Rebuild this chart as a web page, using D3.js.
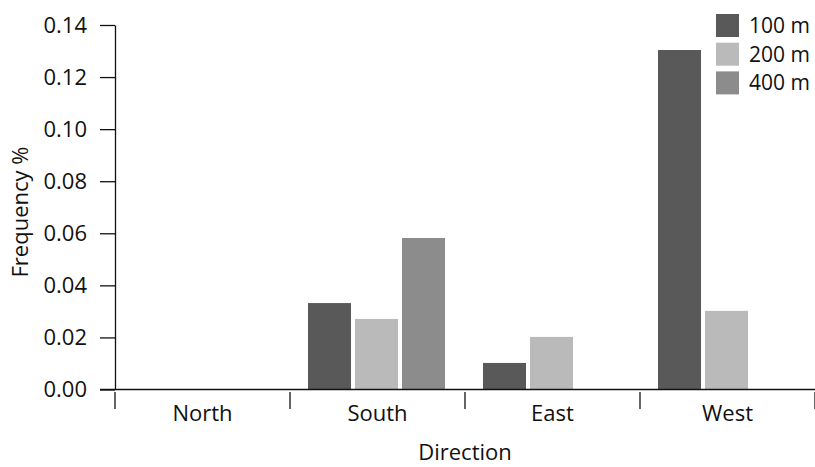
<!DOCTYPE html>
<html><head><meta charset="utf-8">
<script src="https://cdn.jsdelivr.net/npm/d3@7"></script>
<style>body{margin:0;background:#fff}svg{display:block}text{font-family:"Open Sans","Noto Sans",sans-serif;fill:#111}</style>
</head><body>
<script>
const categories = ["North","South","East","West"];
const seriesNames = ["100 m","200 m","400 m"];
const values100 = [0, 0.0332, 0.0102, 0.1304];
const values200 = [0, 0.0271, 0.0202, 0.0302];
const values400 = [0, 0.0582, 0, 0];
const colors = ["#595959","#bababa","#8c8c8c"];
const yTicks = [0,0.02,0.04,0.06,0.08,0.10,0.12,0.14];

const W=815,H=467,FS=22;
const svg=d3.select("body").append("svg").attr("width",W).attr("height",H);
const x0=d3.scaleBand().domain(categories).range([115,815]).paddingInner(0).paddingOuter(0);
const x1=d3.scaleBand().domain(seriesNames).range([18,155]).paddingInner(0.085);
const y=d3.scaleLinear().domain([0,0.14]).range([389.5,25]);
const series=[values100,values200,values400];

// bars
const g=svg.append("g");
categories.forEach((c,i)=>{
  seriesNames.forEach((s,j)=>{
    const v=series[j][i];
    if(v>0) g.append("rect").attr("x",x0(c)+x1(s)).attr("y",y(v)).attr("width",x1.bandwidth()).attr("height",y(0)-y(v)).attr("fill",colors[j]);
  });
});

// y axis
const ya=svg.append("g").attr("transform","translate(115,0)").call(d3.axisLeft(y).tickValues(yTicks).tickFormat(d3.format(".2f")).tickSize(15).tickSizeOuter(0).tickPadding(13));
ya.attr("font-size",null).attr("font-family",null);
ya.select(".domain").attr("stroke","#111").attr("stroke-width",1.3);
ya.selectAll(".tick line").attr("stroke","#111").attr("stroke-width",1.3);
ya.selectAll("text").style("font-size",FS+"px").attr("fill","#111");

// x axis line
svg.append("line").attr("x1",100).attr("x2",815).attr("y1",y(0)).attr("y2",y(0)).attr("stroke","#111").attr("stroke-width",1.3);
// category boundary ticks
const bounds=categories.map(c=>x0(c)).concat([x0.range()[1]]);
svg.selectAll(".bt").data(bounds).enter().append("line").attr("x1",d=>d).attr("x2",d=>d).attr("y1",392).attr("y2",409).attr("stroke","#111").attr("stroke-width",1.3);
svg.selectAll(".cl").data(categories).enter().append("text").attr("x",d=>x0(d)+x0.bandwidth()/2).attr("y",421).attr("text-anchor","middle").style("font-size",FS+"px").text(d=>d);

// axis titles
svg.append("text").attr("x",465).attr("y",460).attr("text-anchor","middle").style("font-size",FS+"px").text("Direction");
svg.append("text").attr("transform","translate(28,212) rotate(-90)").attr("text-anchor","middle").style("font-size",FS+"px").text("Frequency %");

// legend
const lg=svg.append("g");
seriesNames.forEach((s,j)=>{
  lg.append("rect").attr("x",716).attr("y",14+j*28.7).attr("width",23).attr("height",23).attr("fill",colors[j]);
  lg.append("text").attr("x",749).attr("y",33+j*28.7).style("font-size",(FS-1)+"px").text(s);
});
</script>
</body></html>
